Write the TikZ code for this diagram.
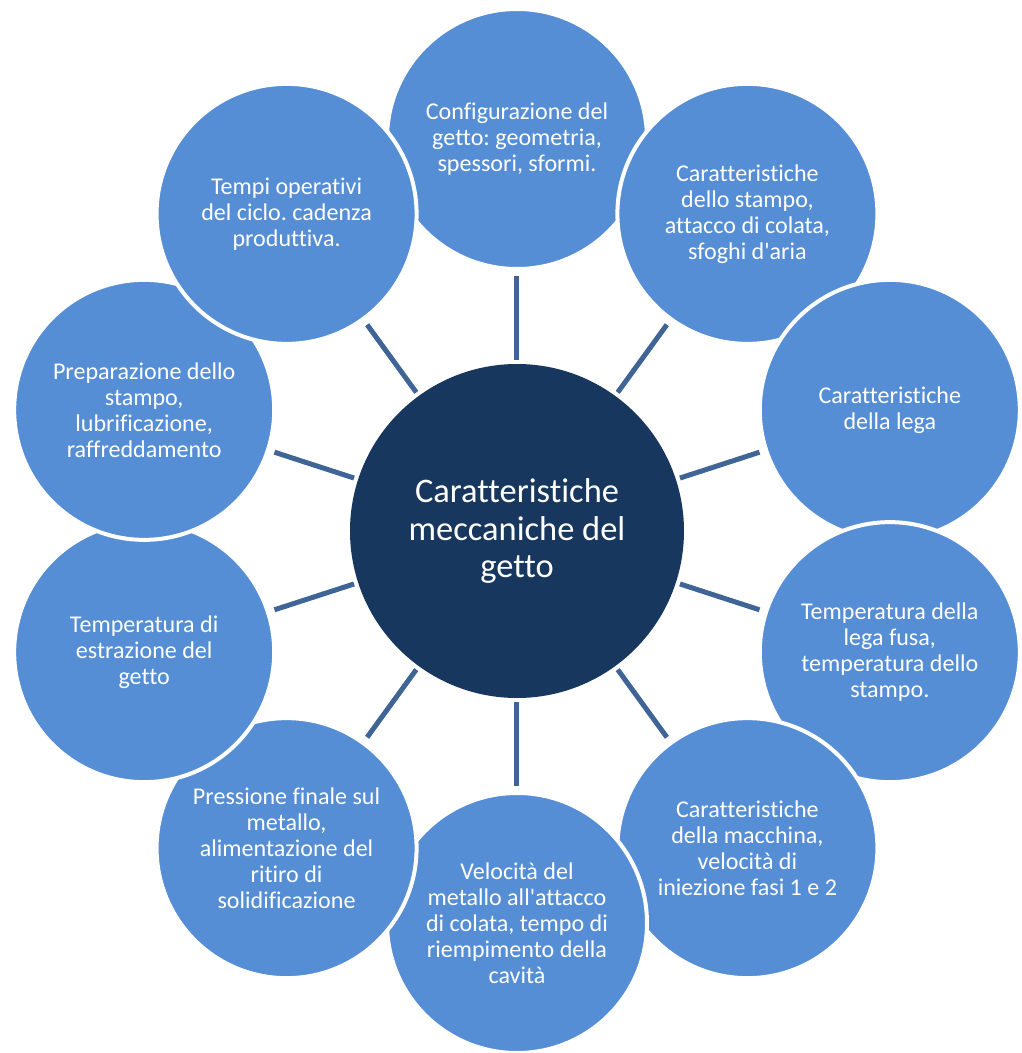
\documentclass[tikz,border=0pt]{standalone}
\usepackage{fontspec}
\setmainfont[RawFeature={-liga}]{Carlito}
\frenchspacing
\definecolor{petal}{RGB}{85,142,213}
\definecolor{hubnavy}{RGB}{24,55,94}
\definecolor{spokeblue}{RGB}{63,100,150}

\begin{document}
\begin{tikzpicture}
[petal/.style={circle,fill=petal,draw=white,line width=0.08cm,minimum size=5.2cm,inner sep=0pt,text=white,font=\fontsize{13.7}{14.8}\selectfont},
 hub/.style={circle,fill=hubnavy,minimum size=6.68cm,inner sep=0pt,text=white,font=\fontsize{19.6}{21.3}\selectfont},
 link/.style={draw=spokeblue,line width=0.1cm,shorten >=0.1cm,shorten <=0.08cm}]
\useasboundingbox (-10.34,-10.44) rectangle (10.10,10.62);
%% centre
\node[hub] (C) at (0,0) {\parbox[c]{5.5cm}{\centering{Caratteristiche\\ meccaniche del\\ getto}}};
%% petals, clockwise from the top
\node[petal] (Cf) at (90:7.84) {\parbox[c]{4.2cm}{\centering{Configurazione del\\ getto: geometria,\\ spessori, sformi.}}};
\node[petal] (St) at (54:7.84) {\parbox[c]{4.2cm}{\centering{Caratteristiche\\ dello stampo,\\ attacco di colata,\\ sfoghi d\textquotesingle aria}}};
\node[petal] (Lg) at (18:7.84) {\parbox[c]{4.2cm}{\centering{Caratteristiche\\ della lega}}};
\node[petal] (Tl) at (-18:7.84) {\parbox[c]{4.2cm}{\centering{Temperatura della\\ lega fusa,\\ temperatura dello\\ stampo.}}};
\node[petal] (Mc) at (-54:7.84) {\parbox[c]{4.2cm}{\centering{Caratteristiche\\ della macchina,\\ velocità di\\ iniezione fasi 1 e 2}}};
\node[petal] (Vm) at (-90:7.84) {\parbox[c]{4.2cm}{\centering{Velocità del\\ metallo all\textquotesingle attacco\\ di colata, tempo di\\ riempimento della\\ cavità}}};
\node[petal] (Pf) at (-126:7.84) {\parbox[c]{4.2cm}{\centering{Pressione finale sul\\ metallo,\\ alimentazione del\\ ritiro di\\ solidificazione}}};
\node[petal] (Te) at (-162:7.84) {\parbox[c]{4.2cm}{\centering{Temperatura di\\ estrazione del\\ getto}}};
\node[petal] (Ps) at (162:7.84) {\parbox[c]{4.2cm}{\centering{Preparazione dello\\ stampo,\\ lubrificazione,\\ raffreddamento}}};
\node[petal] (To) at (126:7.84) {\parbox[c]{4.2cm}{\centering{Tempi operativi\\ del ciclo. cadenza\\ produttiva.}}};
%% spokes
\draw[link] (C) -- (Cf);
\draw[link] (C) -- (St);
\draw[link] (C) -- (Lg);
\draw[link] (C) -- (Tl);
\draw[link] (C) -- (Mc);
\draw[link] (C) -- (Vm);
\draw[link] (C) -- (Pf);
\draw[link] (C) -- (Te);
\draw[link] (C) -- (Ps);
\draw[link] (C) -- (To);
\end{tikzpicture}
\end{document}
